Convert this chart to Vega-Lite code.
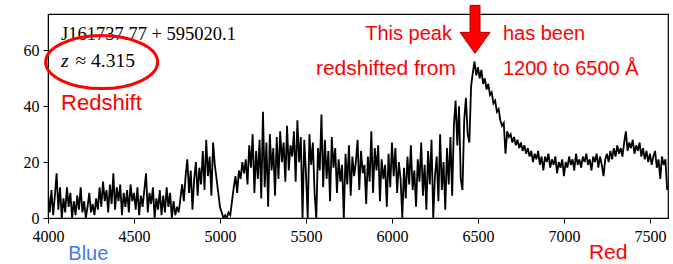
{
  "$schema": "https://vega.github.io/schema/vega-lite/v6.json",
  "width": 620,
  "height": 204,
  "autosize": {"type": "none"},
  "padding": {"left": 48, "top": 14, "right": 5, "bottom": 46},
  "background": "white",
  "config": {
    "view": {"stroke": "black", "strokeWidth": 1.2},
    "axis": {"labelFont": "Liberation Serif", "labelFontSize": 16, "labelColor": "black", "tickColor": "black", "domainColor": "black", "grid": false, "title": null, "tickWidth": 1, "labelFlush": false}
  },
  "layer": [
    {
      "data": {"values": [
        {"wl":4000,"flux":9},{"wl":4010,"flux":2},{"wl":4020,"flux":10},{"wl":4030,"flux":1},{"wl":4040,"flux":8},{"wl":4050,"flux":16},{"wl":4060,"flux":3},{"wl":4070,"flux":11},{"wl":4080,"flux":0},{"wl":4090,"flux":7},
        {"wl":4100,"flux":2},{"wl":4110,"flux":11},{"wl":4120,"flux":4},{"wl":4130,"flux":9},{"wl":4140,"flux":0},{"wl":4150,"flux":6},{"wl":4160,"flux":1},{"wl":4170,"flux":8},{"wl":4180,"flux":3},{"wl":4190,"flux":11},
        {"wl":4200,"flux":2},{"wl":4210,"flux":6},{"wl":4220,"flux":0},{"wl":4230,"flux":4},{"wl":4240,"flux":9},{"wl":4250,"flux":2},{"wl":4260,"flux":5},{"wl":4270,"flux":1},{"wl":4280,"flux":7},{"wl":4290,"flux":3},
        {"wl":4300,"flux":11},{"wl":4310,"flux":4},{"wl":4320,"flux":13},{"wl":4330,"flux":6},{"wl":4340,"flux":10},{"wl":4350,"flux":2},{"wl":4360,"flux":12},{"wl":4370,"flux":5},{"wl":4380,"flux":16},{"wl":4390,"flux":3},
        {"wl":4400,"flux":11},{"wl":4410,"flux":6},{"wl":4420,"flux":12},{"wl":4430,"flux":1},{"wl":4440,"flux":9},{"wl":4450,"flux":4},{"wl":4460,"flux":10},{"wl":4470,"flux":2},{"wl":4480,"flux":12},{"wl":4490,"flux":6},
        {"wl":4500,"flux":9},{"wl":4510,"flux":3},{"wl":4520,"flux":11},{"wl":4530,"flux":1},{"wl":4540,"flux":8},{"wl":4550,"flux":4},{"wl":4560,"flux":10},{"wl":4570,"flux":16},{"wl":4580,"flux":2},{"wl":4590,"flux":9},
        {"wl":4600,"flux":5},{"wl":4610,"flux":11},{"wl":4620,"flux":0},{"wl":4630,"flux":7},{"wl":4640,"flux":3},{"wl":4650,"flux":10},{"wl":4660,"flux":1},{"wl":4670,"flux":8},{"wl":4680,"flux":2},{"wl":4690,"flux":11},
        {"wl":4700,"flux":4},{"wl":4710,"flux":9},{"wl":4720,"flux":0},{"wl":4730,"flux":6},{"wl":4740,"flux":1},{"wl":4750,"flux":4},{"wl":4760,"flux":2},{"wl":4770,"flux":7},{"wl":4780,"flux":12},{"wl":4790,"flux":6},
        {"wl":4800,"flux":15},{"wl":4810,"flux":21},{"wl":4820,"flux":9},{"wl":4830,"flux":17},{"wl":4840,"flux":3},{"wl":4850,"flux":14},{"wl":4860,"flux":20},{"wl":4870,"flux":8},{"wl":4880,"flux":18},{"wl":4890,"flux":12},
        {"wl":4900,"flux":24},{"wl":4910,"flux":10},{"wl":4920,"flux":28},{"wl":4930,"flux":15},{"wl":4940,"flux":22},{"wl":4950,"flux":8},{"wl":4960,"flux":27},{"wl":4970,"flux":19},{"wl":4980,"flux":14},{"wl":4990,"flux":9},
        {"wl":5000,"flux":4},{"wl":5010,"flux":2},{"wl":5020,"flux":0},{"wl":5030,"flux":1},{"wl":5040,"flux":0},{"wl":5050,"flux":2},{"wl":5060,"flux":1},{"wl":5070,"flux":6},{"wl":5080,"flux":11},{"wl":5090,"flux":15},
        {"wl":5100,"flux":9},{"wl":5110,"flux":17},{"wl":5120,"flux":14},{"wl":5130,"flux":20},{"wl":5140,"flux":16},{"wl":5150,"flux":21},{"wl":5160,"flux":12},{"wl":5170,"flux":26},{"wl":5180,"flux":18},{"wl":5190,"flux":30},
        {"wl":5200,"flux":9},{"wl":5210,"flux":24},{"wl":5220,"flux":14},{"wl":5230,"flux":28},{"wl":5240,"flux":7},{"wl":5250,"flux":38},{"wl":5260,"flux":11},{"wl":5270,"flux":27},{"wl":5280,"flux":4},{"wl":5290,"flux":30},
        {"wl":5300,"flux":17},{"wl":5310,"flux":25},{"wl":5320,"flux":8},{"wl":5330,"flux":29},{"wl":5340,"flux":14},{"wl":5350,"flux":31},{"wl":5360,"flux":20},{"wl":5370,"flux":27},{"wl":5380,"flux":13},{"wl":5390,"flux":33},
        {"wl":5400,"flux":17},{"wl":5410,"flux":26},{"wl":5420,"flux":22},{"wl":5430,"flux":31},{"wl":5440,"flux":13},{"wl":5450,"flux":35},{"wl":5460,"flux":20},{"wl":5470,"flux":29},{"wl":5480,"flux":0},{"wl":5490,"flux":28},
        {"wl":5500,"flux":16},{"wl":5510,"flux":0},{"wl":5520,"flux":30},{"wl":5530,"flux":19},{"wl":5540,"flux":27},{"wl":5550,"flux":9},{"wl":5560,"flux":0},{"wl":5570,"flux":25},{"wl":5580,"flux":17},{"wl":5590,"flux":37},
        {"wl":5600,"flux":11},{"wl":5610,"flux":28},{"wl":5620,"flux":14},{"wl":5630,"flux":24},{"wl":5640,"flux":6},{"wl":5650,"flux":29},{"wl":5660,"flux":18},{"wl":5670,"flux":25},{"wl":5680,"flux":9},{"wl":5690,"flux":21},
        {"wl":5700,"flux":13},{"wl":5710,"flux":19},{"wl":5720,"flux":0},{"wl":5730,"flux":23},{"wl":5740,"flux":12},{"wl":5750,"flux":26},{"wl":5760,"flux":8},{"wl":5770,"flux":22},{"wl":5780,"flux":15},{"wl":5790,"flux":20},
        {"wl":5800,"flux":28},{"wl":5810,"flux":10},{"wl":5820,"flux":24},{"wl":5830,"flux":16},{"wl":5840,"flux":19},{"wl":5850,"flux":5},{"wl":5860,"flux":22},{"wl":5870,"flux":13},{"wl":5880,"flux":31},{"wl":5890,"flux":9},
        {"wl":5900,"flux":25},{"wl":5910,"flux":17},{"wl":5920,"flux":26},{"wl":5930,"flux":6},{"wl":5940,"flux":21},{"wl":5950,"flux":14},{"wl":5960,"flux":19},{"wl":5970,"flux":4},{"wl":5980,"flux":23},{"wl":5990,"flux":11},
        {"wl":6000,"flux":27},{"wl":6010,"flux":15},{"wl":6020,"flux":25},{"wl":6030,"flux":9},{"wl":6040,"flux":20},{"wl":6050,"flux":14},{"wl":6060,"flux":0},{"wl":6070,"flux":18},{"wl":6080,"flux":7},{"wl":6090,"flux":22},
        {"wl":6100,"flux":12},{"wl":6110,"flux":26},{"wl":6120,"flux":10},{"wl":6130,"flux":17},{"wl":6140,"flux":4},{"wl":6150,"flux":21},{"wl":6160,"flux":13},{"wl":6170,"flux":27},{"wl":6180,"flux":8},{"wl":6190,"flux":19},
        {"wl":6200,"flux":3},{"wl":6210,"flux":24},{"wl":6220,"flux":12},{"wl":6230,"flux":28},{"wl":6240,"flux":0},{"wl":6250,"flux":15},{"wl":6260,"flux":22},{"wl":6270,"flux":6},{"wl":6280,"flux":30},{"wl":6290,"flux":10},
        {"wl":6300,"flux":20},{"wl":6310,"flux":3},{"wl":6320,"flux":25},{"wl":6330,"flux":12},{"wl":6340,"flux":29},{"wl":6350,"flux":8},{"wl":6360,"flux":33},{"wl":6370,"flux":42},{"wl":6380,"flux":26},{"wl":6390,"flux":40},
        {"wl":6400,"flux":14},{"wl":6410,"flux":10},{"wl":6420,"flux":35},{"wl":6430,"flux":43},{"wl":6440,"flux":30},{"wl":6450,"flux":27},{"wl":6460,"flux":47},{"wl":6470,"flux":52},{"wl":6480,"flux":56},{"wl":6490,"flux":51},
        {"wl":6500,"flux":54},{"wl":6510,"flux":50},{"wl":6520,"flux":53},{"wl":6530,"flux":48},{"wl":6540,"flux":50},{"wl":6550,"flux":46},{"wl":6560,"flux":48},{"wl":6570,"flux":44},{"wl":6580,"flux":45},{"wl":6590,"flux":41},
        {"wl":6600,"flux":42},{"wl":6610,"flux":38},{"wl":6620,"flux":39},{"wl":6630,"flux":35},{"wl":6640,"flux":33},{"wl":6650,"flux":34},{"wl":6660,"flux":23},{"wl":6670,"flux":31},{"wl":6680,"flux":29},{"wl":6690,"flux":30},
        {"wl":6700,"flux":27},{"wl":6710,"flux":29},{"wl":6720,"flux":26},{"wl":6730,"flux":28},{"wl":6740,"flux":25},{"wl":6750,"flux":27},{"wl":6760,"flux":24},{"wl":6770,"flux":26},{"wl":6780,"flux":23},{"wl":6790,"flux":25},
        {"wl":6800,"flux":22},{"wl":6810,"flux":24},{"wl":6820,"flux":20},{"wl":6830,"flux":23},{"wl":6840,"flux":21},{"wl":6850,"flux":24},{"wl":6860,"flux":19},{"wl":6870,"flux":22},{"wl":6880,"flux":17},{"wl":6890,"flux":22},
        {"wl":6900,"flux":20},{"wl":6910,"flux":23},{"wl":6920,"flux":18},{"wl":6930,"flux":21},{"wl":6940,"flux":19},{"wl":6950,"flux":22},{"wl":6960,"flux":16},{"wl":6970,"flux":20},{"wl":6980,"flux":18},{"wl":6990,"flux":21},
        {"wl":7000,"flux":15},{"wl":7010,"flux":20},{"wl":7020,"flux":18},{"wl":7030,"flux":22},{"wl":7040,"flux":19},{"wl":7050,"flux":21},{"wl":7060,"flux":17},{"wl":7070,"flux":23},{"wl":7080,"flux":19},{"wl":7090,"flux":21},
        {"wl":7100,"flux":18},{"wl":7110,"flux":22},{"wl":7120,"flux":20},{"wl":7130,"flux":23},{"wl":7140,"flux":19},{"wl":7150,"flux":21},{"wl":7160,"flux":17},{"wl":7170,"flux":22},{"wl":7180,"flux":20},{"wl":7190,"flux":23},
        {"wl":7200,"flux":18},{"wl":7210,"flux":22},{"wl":7220,"flux":19},{"wl":7230,"flux":15},{"wl":7240,"flux":21},{"wl":7250,"flux":23},{"wl":7260,"flux":20},{"wl":7270,"flux":24},{"wl":7280,"flux":21},{"wl":7290,"flux":25},
        {"wl":7300,"flux":22},{"wl":7310,"flux":26},{"wl":7320,"flux":23},{"wl":7330,"flux":25},{"wl":7340,"flux":22},{"wl":7350,"flux":27},{"wl":7360,"flux":31},{"wl":7370,"flux":24},{"wl":7380,"flux":27},{"wl":7390,"flux":25},
        {"wl":7400,"flux":28},{"wl":7410,"flux":23},{"wl":7420,"flux":26},{"wl":7430,"flux":24},{"wl":7440,"flux":27},{"wl":7450,"flux":22},{"wl":7460,"flux":25},{"wl":7470,"flux":21},{"wl":7480,"flux":24},{"wl":7490,"flux":20},
        {"wl":7500,"flux":23},{"wl":7510,"flux":19},{"wl":7520,"flux":22},{"wl":7530,"flux":24},{"wl":7540,"flux":18},{"wl":7550,"flux":21},{"wl":7560,"flux":14},{"wl":7570,"flux":22},{"wl":7580,"flux":19},{"wl":7590,"flux":21},
        {"wl":7600,"flux":10}
      ]},
      "mark": {"type": "line", "color": "black", "strokeWidth": 1.8, "clip": true},
      "encoding": {
        "x": {"field": "wl", "type": "quantitative", "scale": {"domain": [4000, 7605], "nice": false, "zero": false}, "axis": {"values": [4000, 4500, 5000, 5500, 6000, 6500, 7000, 7500], "format": "d", "tickSize": 5, "labelPadding": 5}},
        "y": {"field": "flux", "type": "quantitative", "scale": {"domain": [0, 73], "nice": false}, "axis": {"values": [0, 20, 40, 60], "tickSize": 5, "labelPadding": 4}}
      }
    },
    {
      "data": {"values": [{}]},
      "mark": {"type": "text", "font": "Liberation Serif", "fontSize": 18.5, "color": "black", "align": "left", "baseline": "alphabetic", "clip": false},
      "encoding": {"x": {"datum": 4076, "type": "quantitative"}, "y": {"datum": 63.6, "type": "quantitative"}, "text": {"value": "J161737.77 + 595020.1"}}
    },
    {
      "data": {"values": [{}]},
      "mark": {"type": "text", "font": "Liberation Serif", "fontSize": 19.5, "fontStyle": "italic", "color": "black", "align": "left", "baseline": "alphabetic", "clip": false},
      "encoding": {"x": {"datum": 4076, "type": "quantitative"}, "y": {"datum": 53.9, "type": "quantitative"}, "text": {"value": "z"}}
    },
    {
      "data": {"values": [{}]},
      "mark": {"type": "text", "font": "Liberation Serif", "fontSize": 19.5, "color": "black", "align": "left", "baseline": "alphabetic", "clip": false},
      "encoding": {"x": {"datum": 4160, "type": "quantitative"}, "y": {"datum": 53.9, "type": "quantitative"}, "text": {"value": "≈ 4.315"}}
    },
    {
      "data": {"values": [{}]},
      "mark": {"type": "point", "shape": "M -1 0 A 1 0.473 0 1 0 1 0 A 1 0.473 0 1 0 -1 0 Z", "size": 12544, "filled": false, "stroke": "#ff0000", "strokeWidth": 3, "opacity": 1, "clip": false},
      "encoding": {"x": {"datum": 4312, "type": "quantitative"}, "y": {"datum": 55.8, "type": "quantitative"}}
    },
    {
      "data": {"values": [{}]},
      "mark": {"type": "text", "font": "Liberation Sans", "fontSize": 22, "color": "#ff0000", "align": "left", "baseline": "alphabetic", "clip": false},
      "encoding": {"x": {"datum": 4076, "type": "quantitative"}, "y": {"datum": 38.6, "type": "quantitative"}, "text": {"value": "Redshift"}}
    },
    {
      "data": {"values": [{}]},
      "mark": {"type": "text", "font": "Liberation Sans", "fontSize": 20, "color": "#ff0000", "align": "right", "baseline": "alphabetic", "clip": false},
      "encoding": {"x": {"datum": 6349, "type": "quantitative"}, "y": {"datum": 63.6, "type": "quantitative"}, "text": {"value": "This peak"}}
    },
    {
      "data": {"values": [{}]},
      "mark": {"type": "text", "font": "Liberation Sans", "fontSize": 21, "color": "#ff0000", "align": "right", "baseline": "alphabetic", "clip": false},
      "encoding": {"x": {"datum": 6372, "type": "quantitative"}, "y": {"datum": 51.1, "type": "quantitative"}, "text": {"value": "redshifted from"}}
    },
    {
      "data": {"values": [{}]},
      "mark": {"type": "text", "font": "Liberation Sans", "fontSize": 20, "color": "#ff0000", "align": "left", "baseline": "alphabetic", "clip": false},
      "encoding": {"x": {"datum": 6645, "type": "quantitative"}, "y": {"datum": 63.6, "type": "quantitative"}, "text": {"value": "has been"}}
    },
    {
      "data": {"values": [{}]},
      "mark": {"type": "text", "font": "Liberation Sans", "fontSize": 20, "color": "#ff0000", "align": "left", "baseline": "alphabetic", "clip": false},
      "encoding": {"x": {"datum": 6645, "type": "quantitative"}, "y": {"datum": 51.1, "type": "quantitative"}, "text": {"value": "1200 to 6500 Å"}}
    },
    {
      "data": {"values": [{}]},
      "mark": {"type": "point", "shape": "M -0.208 -1 L 0.208 -1 L 0.208 0.125 L 0.625 0.125 L 0 1 L -0.625 0.125 L -0.208 0.125 Z", "size": 2304, "filled": true, "fill": "#ff0000", "stroke": "#b00000", "strokeWidth": 1, "opacity": 1, "clip": false},
      "encoding": {"x": {"datum": 6483, "type": "quantitative"}, "y": {"datum": 67.5, "type": "quantitative"}}
    },
    {
      "data": {"values": [{}]},
      "mark": {"type": "text", "font": "Liberation Sans", "fontSize": 20, "color": "#4678f0", "align": "left", "baseline": "alphabetic", "clip": false},
      "encoding": {"x": {"datum": 4118, "type": "quantitative"}, "y": {"datum": -15.2, "type": "quantitative"}, "text": {"value": "Blue"}}
    },
    {
      "data": {"values": [{}]},
      "mark": {"type": "text", "font": "Liberation Sans", "fontSize": 21, "color": "#ff0000", "align": "left", "baseline": "alphabetic", "clip": false},
      "encoding": {"x": {"datum": 7145, "type": "quantitative"}, "y": {"datum": -14.8, "type": "quantitative"}, "text": {"value": "Red"}}
    }
  ]
}
